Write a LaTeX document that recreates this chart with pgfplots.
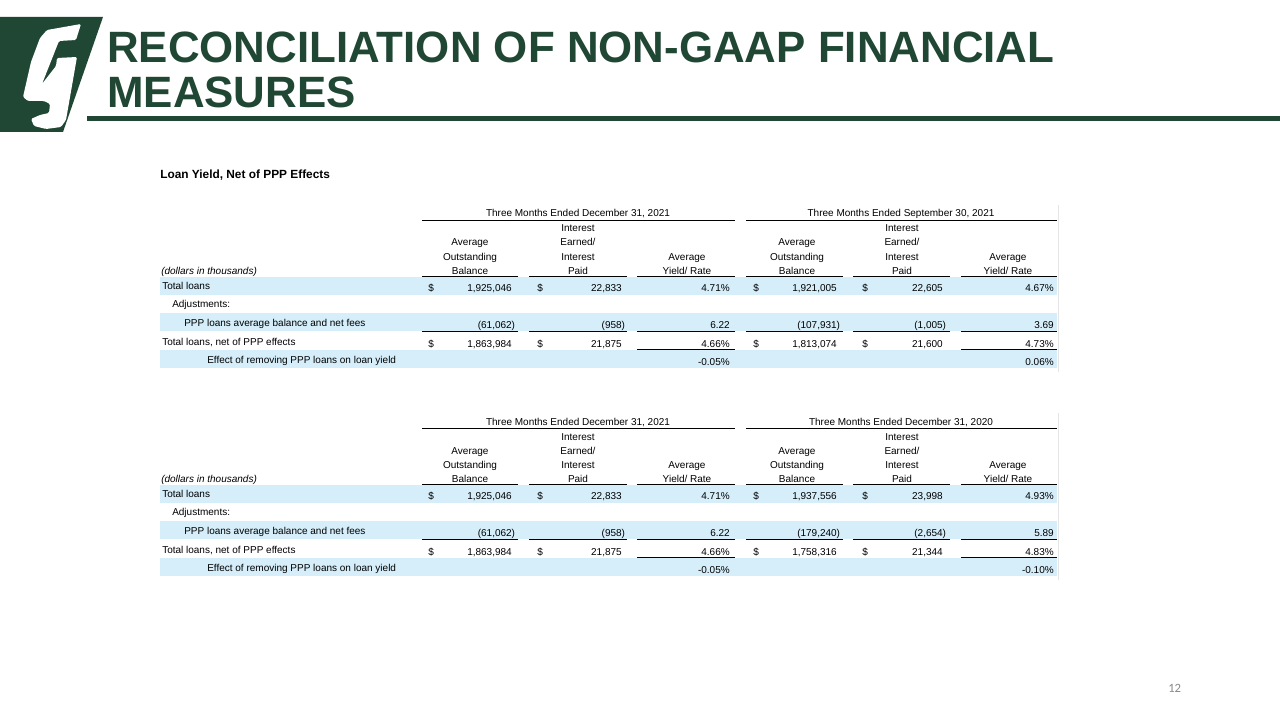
\documentclass[border=0pt]{standalone}
\usepackage{pgfplots}
\pgfplotsset{compat=1.18}
\usepackage{fontspec}
\setmainfont{Liberation Sans}
\newfontfamily\carlito{Carlito}
\definecolor{gbgreen}{RGB}{31,71,52}
\definecolor{rowblue}{RGB}{213,238,250}
\newcommand\tf{\fontsize{7.5pt}{9pt}\selectfont}
% text helpers (axis px coordinates, y downward)
\newcommand\lt[3]{\node[anchor=base west,inner sep=0,font=\tf] at (axis cs:#1,#2) {#3};}
\newcommand\rt[3]{\node[anchor=base east,inner sep=0,font=\tf] at (axis cs:#1,#2) {#3};}
\newcommand\ct[3]{\node[anchor=base,inner sep=0,font=\tf] at (axis cs:#1,#2) {#3};}
\newcommand\hl[3]{\draw[line width=0.8pt] (axis cs:#1,#3) -- (axis cs:#2,#3);}
% one row of values, period A / B: #1 offset, #2 base y, #3 #4 #5 values
\newcommand\rowA[5]{\rt{512}{{#2+#1}}{#3}\rt{622}{{#2+#1}}{#4}\rt{730}{{#2+#1}}{#5}}
\newcommand\rowB[5]{\rt{837}{{#2+#1}}{#3}\rt{943}{{#2+#1}}{#4}\rt{1054}{{#2+#1}}{#5}}
\newcommand\dollars[2]{\lt{428}{{#2+#1}}{\$}\lt{537}{{#2+#1}}{\$}\lt{753}{{#2+#1}}{\$}\lt{862}{{#2+#1}}{\$}}
% static table skeleton: #1 offset, #2 period A header, #3 period B header
\newcommand\tablestatic[3]{%
  \fill[rowblue] (axis cs:160,{277+#1}) rectangle (axis cs:1057,{295+#1});
  \fill[rowblue] (axis cs:160,{313+#1}) rectangle (axis cs:1057,{331+#1});
  \fill[rowblue] (axis cs:160,{350+#1}) rectangle (axis cs:1057,{368+#1});
  \draw[black!10,line width=0.8pt] (axis cs:1058.5,{205+#1}) -- (axis cs:1058.5,{372+#1});
  \ct{578}{{217+#1}}{#2}
  \ct{901}{{217+#1}}{#3}
  \hl{422}{735}{{220.5+#1}}
  \hl{746}{1057}{{220.5+#1}}
  % column headers
  \ct{578}{{232+#1}}{Interest}
  \ct{902}{{232+#1}}{Interest}
  \ct{470}{{246+#1}}{Average}
  \ct{578}{{246+#1}}{Earned/}
  \ct{797}{{246+#1}}{Average}
  \ct{902}{{246+#1}}{Earned/}
  \ct{470}{{260+#1}}{Outstanding}
  \ct{578}{{260+#1}}{Interest}
  \ct{687}{{260+#1}}{Average}
  \ct{797}{{260+#1}}{Outstanding}
  \ct{902}{{260+#1}}{Interest}
  \ct{1008}{{260+#1}}{Average}
  \ct{470}{{274+#1}}{Balance}
  \ct{578}{{274+#1}}{Paid}
  \ct{687}{{274+#1}}{Yield/ Rate}
  \ct{797}{{274+#1}}{Balance}
  \ct{902}{{274+#1}}{Paid}
  \ct{1008}{{274+#1}}{Yield/ Rate}
  \lt{161}{{274+#1}}{\itshape (dollars in thousands)}
  \hl{422}{518}{{276.5+#1}}\hl{529}{627}{{276.5+#1}}\hl{637}{735}{{276.5+#1}}
  \hl{746}{843}{{276.5+#1}}\hl{853}{950}{{276.5+#1}}\hl{961}{1057}{{276.5+#1}}
  \hl{422}{518}{{331.5+#1}}\hl{529}{627}{{331.5+#1}}\hl{637}{735}{{331.5+#1}}
  \hl{746}{843}{{331.5+#1}}\hl{853}{950}{{331.5+#1}}\hl{961}{1057}{{331.5+#1}}
  \hl{637}{735}{{349.5+#1}}\hl{961}{1057}{{349.5+#1}}
  % row labels
  \lt{162}{{289+#1}}{Total loans}
  \lt{172}{{307+#1}}{Adjustments:}
  \lt{184}{{326+#1}}{PPP loans average balance and net fees}
  \lt{162}{{345+#1}}{Total loans, net of PPP effects}
  \lt{207}{{363+#1}}{Effect of removing PPP loans on loan yield}
  \dollars{#1}{291}
  \dollars{#1}{347}
  % period A values (Three Months Ended December 31, 2021)
  \rowA{#1}{291}{1,925,046}{22,833}{4.71\%}
  \rowA{#1}{328}{(61,062\rlap{)}}{(958\rlap{)}}{6.22}
  \rowA{#1}{347}{1,863,984}{21,875}{4.66\%}
  \rt{730}{{365+#1}}{-0.05\%}
}
\begin{document}
\begin{tikzpicture}
\begin{axis}[
  scale only axis, width=960pt, height=540pt,
  xmin=0, xmax=1280, ymin=0, ymax=720, y dir=reverse,
  hide axis, clip=false]
\addplot[draw=none] coordinates {(0,0) (1280,720)};
\fill[white] (axis cs:0,0) rectangle (axis cs:1280,720);
% logo
\fill[gbgreen] (axis cs:0,17) -- (axis cs:103,17) -- (axis cs:63,132) -- (axis cs:0,132) -- cycle;
\fill[white,rounded corners=1pt] (axis cs:47,30) -- (axis cs:81,24) -- (axis cs:76,40) -- (axis cs:59,41)
  -- (axis cs:42,84) -- (axis cs:56,66) -- (axis cs:57,58) -- (axis cs:77,57) -- (axis cs:66,120)
  -- (axis cs:61,127) -- (axis cs:46,129) -- (axis cs:34,126) -- (axis cs:31,119) -- (axis cs:40,115)
  -- (axis cs:49,113) -- (axis cs:50,104) -- (axis cs:44,101) -- (axis cs:28,101) -- (axis cs:23,97)
  -- (axis cs:31,62) -- (axis cs:40,38) -- cycle;
% title
\node[anchor=base west,inner sep=0,font=\fontsize{32.9pt}{39pt}\selectfont\bfseries,text=gbgreen]
  at (axis cs:107,63) {RECONCILIATION OF NON-GAAP FINANCIAL};
\node[anchor=base west,inner sep=0,font=\fontsize{32.9pt}{39pt}\selectfont\bfseries,text=gbgreen]
  at (axis cs:107,108) {MEASURES};
\fill[gbgreen] (axis cs:87,116) rectangle (axis cs:1280,121);
% subtitle
\node[anchor=base west,inner sep=0,font=\fontsize{8.9pt}{11pt}\selectfont\bfseries]
  at (axis cs:160,179) {Loan Yield, Net of PPP Effects};
% table 1
\tablestatic{0}{Three Months Ended December 31, 2021}{Three Months Ended September 30, 2021}
\rowB{0}{291}{1,921,005}{22,605}{4.67\%}
\rowB{0}{328}{(107,931\rlap{)}}{(1,005\rlap{)}}{3.69}
\rowB{0}{347}{1,813,074}{21,600}{4.73\%}
\rt{1054}{365}{0.06\%}
% table 2
\tablestatic{208}{Three Months Ended December 31, 2021}{Three Months Ended December 31, 2020}
\rowB{208}{291}{1,937,556}{23,998}{4.93\%}
\rowB{208}{328}{(179,240\rlap{)}}{(2,654\rlap{)}}{5.89}
\rowB{208}{347}{1,758,316}{21,344}{4.83\%}
\rt{1054}{573}{-0.10\%}
% page number
\node[anchor=base west,inner sep=0,font=\carlito\fontsize{9.5pt}{11pt}\selectfont,text={rgb,255:red,137;green,137;blue,137}]
  at (axis cs:1168,692) {12};
\end{axis}
\end{tikzpicture}
\end{document}
